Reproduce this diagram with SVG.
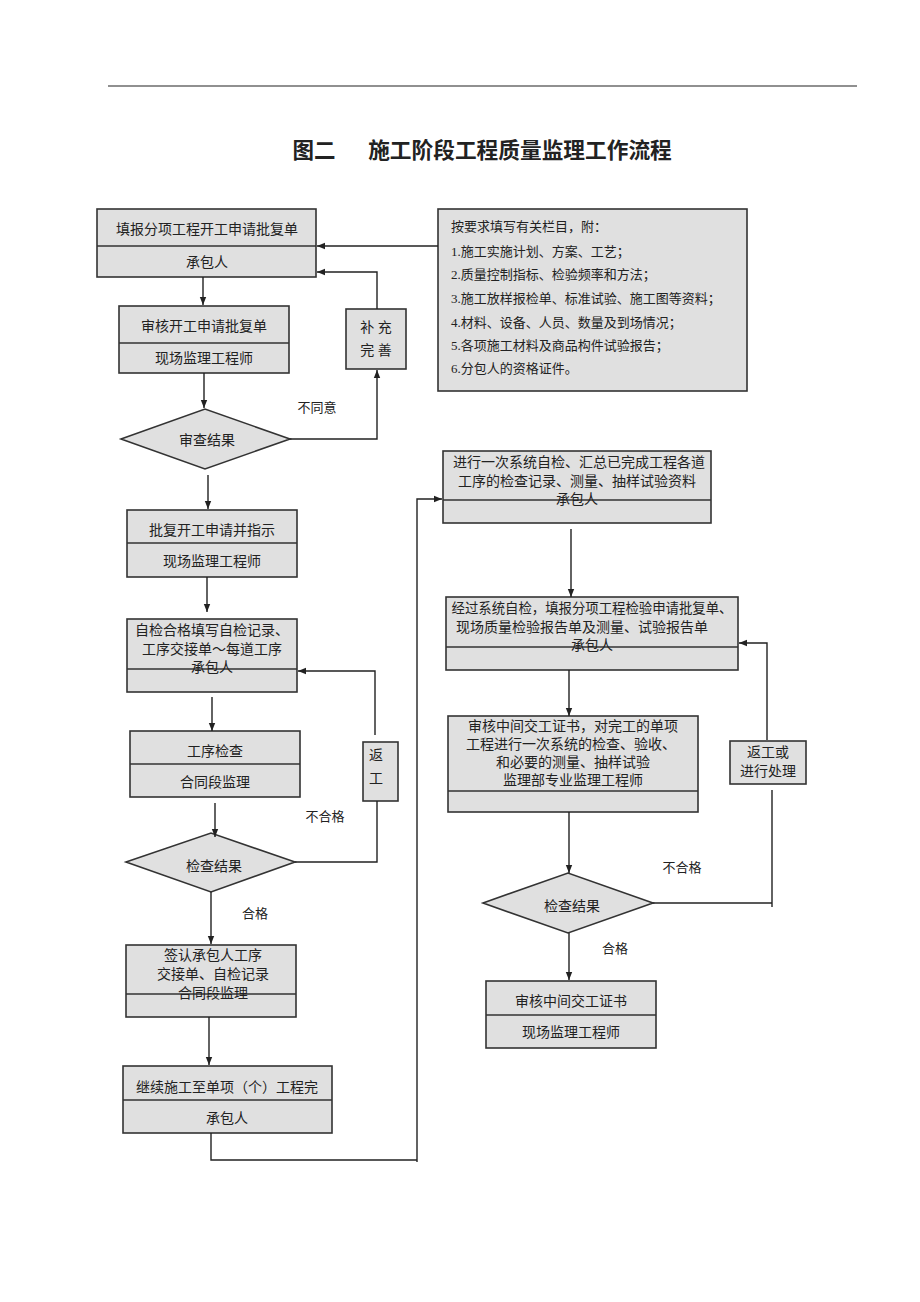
<svg xmlns="http://www.w3.org/2000/svg" width="920" height="1302" viewBox="0 0 920 1302">
<defs>
<marker id="arr" viewBox="0 0 10 10" refX="10" refY="5" markerWidth="8" markerHeight="8" markerUnits="userSpaceOnUse" orient="auto"><path d="M0,1 L10,5 L0,9 z" fill="#222"/></marker>
<style>
.box{fill:#e0e0e0;stroke:#333;stroke-width:1.6}
.div{stroke:#333;stroke-width:1.4}
.t{font-family:"Liberation Serif","Noto Sans CJK SC",serif;font-size:14px;fill:#222;text-anchor:middle;dominant-baseline:central}
.tl{font-family:"Liberation Serif","Noto Sans CJK SC",serif;font-size:13px;fill:#222;dominant-baseline:central}
.c{fill:none;stroke:#222;stroke-width:1.4}
</style>
</defs>
<rect width="920" height="1302" fill="#fff"/>
<line x1="108" y1="86" x2="857" y2="86" stroke="#222" stroke-width="1.2"/>
<text x="314" y="151" class="t" style="font-size:21.5px;font-weight:bold">图二</text>
<text x="520" y="151" class="t" style="font-size:21.7px;font-weight:bold">施工阶段工程质量监理工作流程</text>

<g id="n1"><rect class="box" x="97" y="209" width="219" height="68"/><line class="div" x1="97" y1="246" x2="316" y2="246"/><text class="t" x="207" y="229">填报分项工程开工申请批复单</text><text class="t" x="207" y="262">承包人</text></g>
<g id="n_req"><rect class="box" x="438" y="209" width="309" height="182"/>
<text class="tl" x="451" y="226">按要求填写有关栏目，附：</text>
<text class="tl" x="451" y="251">1.施工实施计划、方案、工艺；</text>
<text class="tl" x="451" y="274">2.质量控制指标、检验频率和方法；</text>
<text class="tl" x="451" y="298">3.施工放样报检单、标准试验、施工图等资料；</text>
<text class="tl" x="451" y="322">4.材料、设备、人员、数量及到场情况；</text>
<text class="tl" x="451" y="345">5.各项施工材料及商品构件试验报告；</text>
<text class="tl" x="451" y="368">6.分包人的资格证件。</text></g>
<g id="n2"><rect class="box" x="119" y="306" width="170" height="67"/><line class="div" x1="119" y1="343" x2="289" y2="343"/><text class="t" x="204" y="326">审核开工申请批复单</text><text class="t" x="204" y="358">现场监理工程师</text></g>
<g id="n_bc"><rect class="box" x="346" y="309" width="60" height="60"/><text class="t" x="376" y="327">补 充</text><text class="t" x="376" y="350">完 善</text></g>
<g id="d1"><polygon class="box" points="121,439 205,409 290,439 205,469"/><text class="t" x="207" y="440">审查结果</text></g>
<g id="n3"><rect class="box" x="127" y="510" width="170" height="67"/><line class="div" x1="127" y1="543" x2="297" y2="543"/><text class="t" x="212" y="530">批复开工申请并指示</text><text class="t" x="212" y="561">现场监理工程师</text></g>
<g id="n4"><rect class="box" x="127" y="619" width="170" height="73"/><line class="div" x1="127" y1="669" x2="297" y2="669"/><text class="t" x="212" y="630">自检合格填写自检记录、</text><text class="t" x="212" y="649">工序交接单～每道工序</text><text class="t" x="212" y="667">承包人</text></g>
<g id="n5"><rect class="box" x="130" y="731" width="170" height="66"/><line class="div" x1="130" y1="764" x2="300" y2="764"/><text class="t" x="215" y="751">工序检查</text><text class="t" x="215" y="782">合同段监理</text></g>
<g id="n_fg"><rect class="box" x="363" y="742" width="35" height="59"/><text class="t" x="376" y="755">返</text><text class="t" x="376" y="778">工</text></g>
<g id="d2"><polygon class="box" points="126,862 211,833 295,862 211,892"/><text class="t" x="214" y="866">检查结果</text></g>
<g id="n6"><rect class="box" x="126" y="945" width="170" height="72"/><line class="div" x1="126" y1="994" x2="296" y2="994"/><text class="t" x="213" y="955">签认承包人工序</text><text class="t" x="213" y="974">交接单、自检记录</text><text class="t" x="213" y="993">合同段监理</text></g>
<g id="n7"><rect class="box" x="123" y="1066" width="209" height="67"/><line class="div" x1="123" y1="1100" x2="332" y2="1100"/><text class="t" x="227" y="1087">继续施工至单项（个）工程完</text><text class="t" x="227" y="1118">承包人</text></g>
<g id="n8"><rect class="box" x="443" y="451" width="268" height="72"/><line class="div" x1="443" y1="500" x2="711" y2="500"/><text class="t" x="579" y="462">进行一次系统自检、汇总已完成工程各道</text><text class="t" x="577" y="481">工序的检查记录、测量、抽样试验资料</text><text class="t" x="577" y="499">承包人</text></g>
<g id="n9"><rect class="box" x="446" y="597" width="292" height="73"/><line class="div" x1="446" y1="647" x2="738" y2="647"/><text class="t" x="592" y="608" textLength="281" lengthAdjust="spacingAndGlyphs">经过系统自检，填报分项工程检验申请批复单、</text><text class="t" x="582" y="627">现场质量检验报告单及测量、试验报告单</text><text class="t" x="592" y="645">承包人</text></g>
<g id="n10"><rect class="box" x="448" y="716" width="250" height="96"/><line class="div" x1="448" y1="791" x2="698" y2="791"/><text class="t" x="573" y="726">审核中间交工证书，对完工的单项</text><text class="t" x="571" y="744">工程进行一次系统的检查、验收、</text><text class="t" x="573" y="762">和必要的测量、抽样试验</text><text class="t" x="573" y="780">监理部专业监理工程师</text></g>
<g id="n_fg2"><rect class="box" x="730" y="741" width="76" height="43"/><text class="t" x="768" y="752">返工或</text><text class="t" x="768" y="771">进行处理</text></g>
<g id="d3"><polygon class="box" points="483,903 568,873 653,903 568,933"/><text class="t" x="572" y="906">检查结果</text></g>
<g id="n11"><rect class="box" x="486" y="981" width="170" height="67"/><line class="div" x1="486" y1="1015" x2="656" y2="1015"/><text class="t" x="571" y="1001">审核中间交工证书</text><text class="t" x="571" y="1032">现场监理工程师</text></g>

<g id="connectors">
<line class="c" x1="438" y1="246" x2="317" y2="246" marker-end="url(#arr)"/>
<line class="c" x1="203" y1="277" x2="203" y2="305" marker-end="url(#arr)"/>
<polyline class="c" points="377,309 377,272 317,272" marker-end="url(#arr)"/>
<line class="c" x1="204" y1="373" x2="204" y2="408" marker-end="url(#arr)"/>
<polyline class="c" points="290,439 377,439 377,370" marker-end="url(#arr)"/>
<line class="c" x1="208" y1="475" x2="208" y2="509" marker-end="url(#arr)"/>
<line class="c" x1="207" y1="577" x2="207" y2="612" marker-end="url(#arr)"/>
<polyline class="c" points="375,735 375,671 298,671" marker-end="url(#arr)"/>
<line class="c" x1="212" y1="697" x2="212" y2="731" marker-end="url(#arr)"/>
<line class="c" x1="215" y1="803" x2="215" y2="837" marker-end="url(#arr)"/>
<polyline class="c" points="377,801 377,862 295,862"/>
<line class="c" x1="211" y1="892" x2="211" y2="944" marker-end="url(#arr)"/>
<line class="c" x1="209" y1="1017" x2="209" y2="1065" marker-end="url(#arr)"/>
<polyline class="c" points="211,1133 211,1160 417,1160"/>
<polyline class="c" points="417,1162 417,499 442,499" marker-end="url(#arr)"/>
<line class="c" x1="571" y1="529" x2="571" y2="597" marker-end="url(#arr)"/>
<line class="c" x1="569" y1="670" x2="569" y2="716" marker-end="url(#arr)"/>
<polyline class="c" points="767,740 767,643 739,643" marker-end="url(#arr)"/>
<line class="c" x1="569" y1="812" x2="569" y2="873" marker-end="url(#arr)"/>
<polyline class="c" points="653,903 772,903"/>
<line class="c" x1="772" y1="790" x2="772" y2="907"/>
<line class="c" x1="569" y1="933" x2="569" y2="980" marker-end="url(#arr)"/>
</g>
<g id="labels">
<text class="t" x="317" y="407" style="font-size:13px">不同意</text>
<text class="t" x="325" y="816" style="font-size:13px">不合格</text>
<text class="t" x="255" y="913" style="font-size:13px">合格</text>
<text class="t" x="682" y="867" style="font-size:13px">不合格</text>
<text class="t" x="615" y="948" style="font-size:13px">合格</text>
</g>
</svg>
